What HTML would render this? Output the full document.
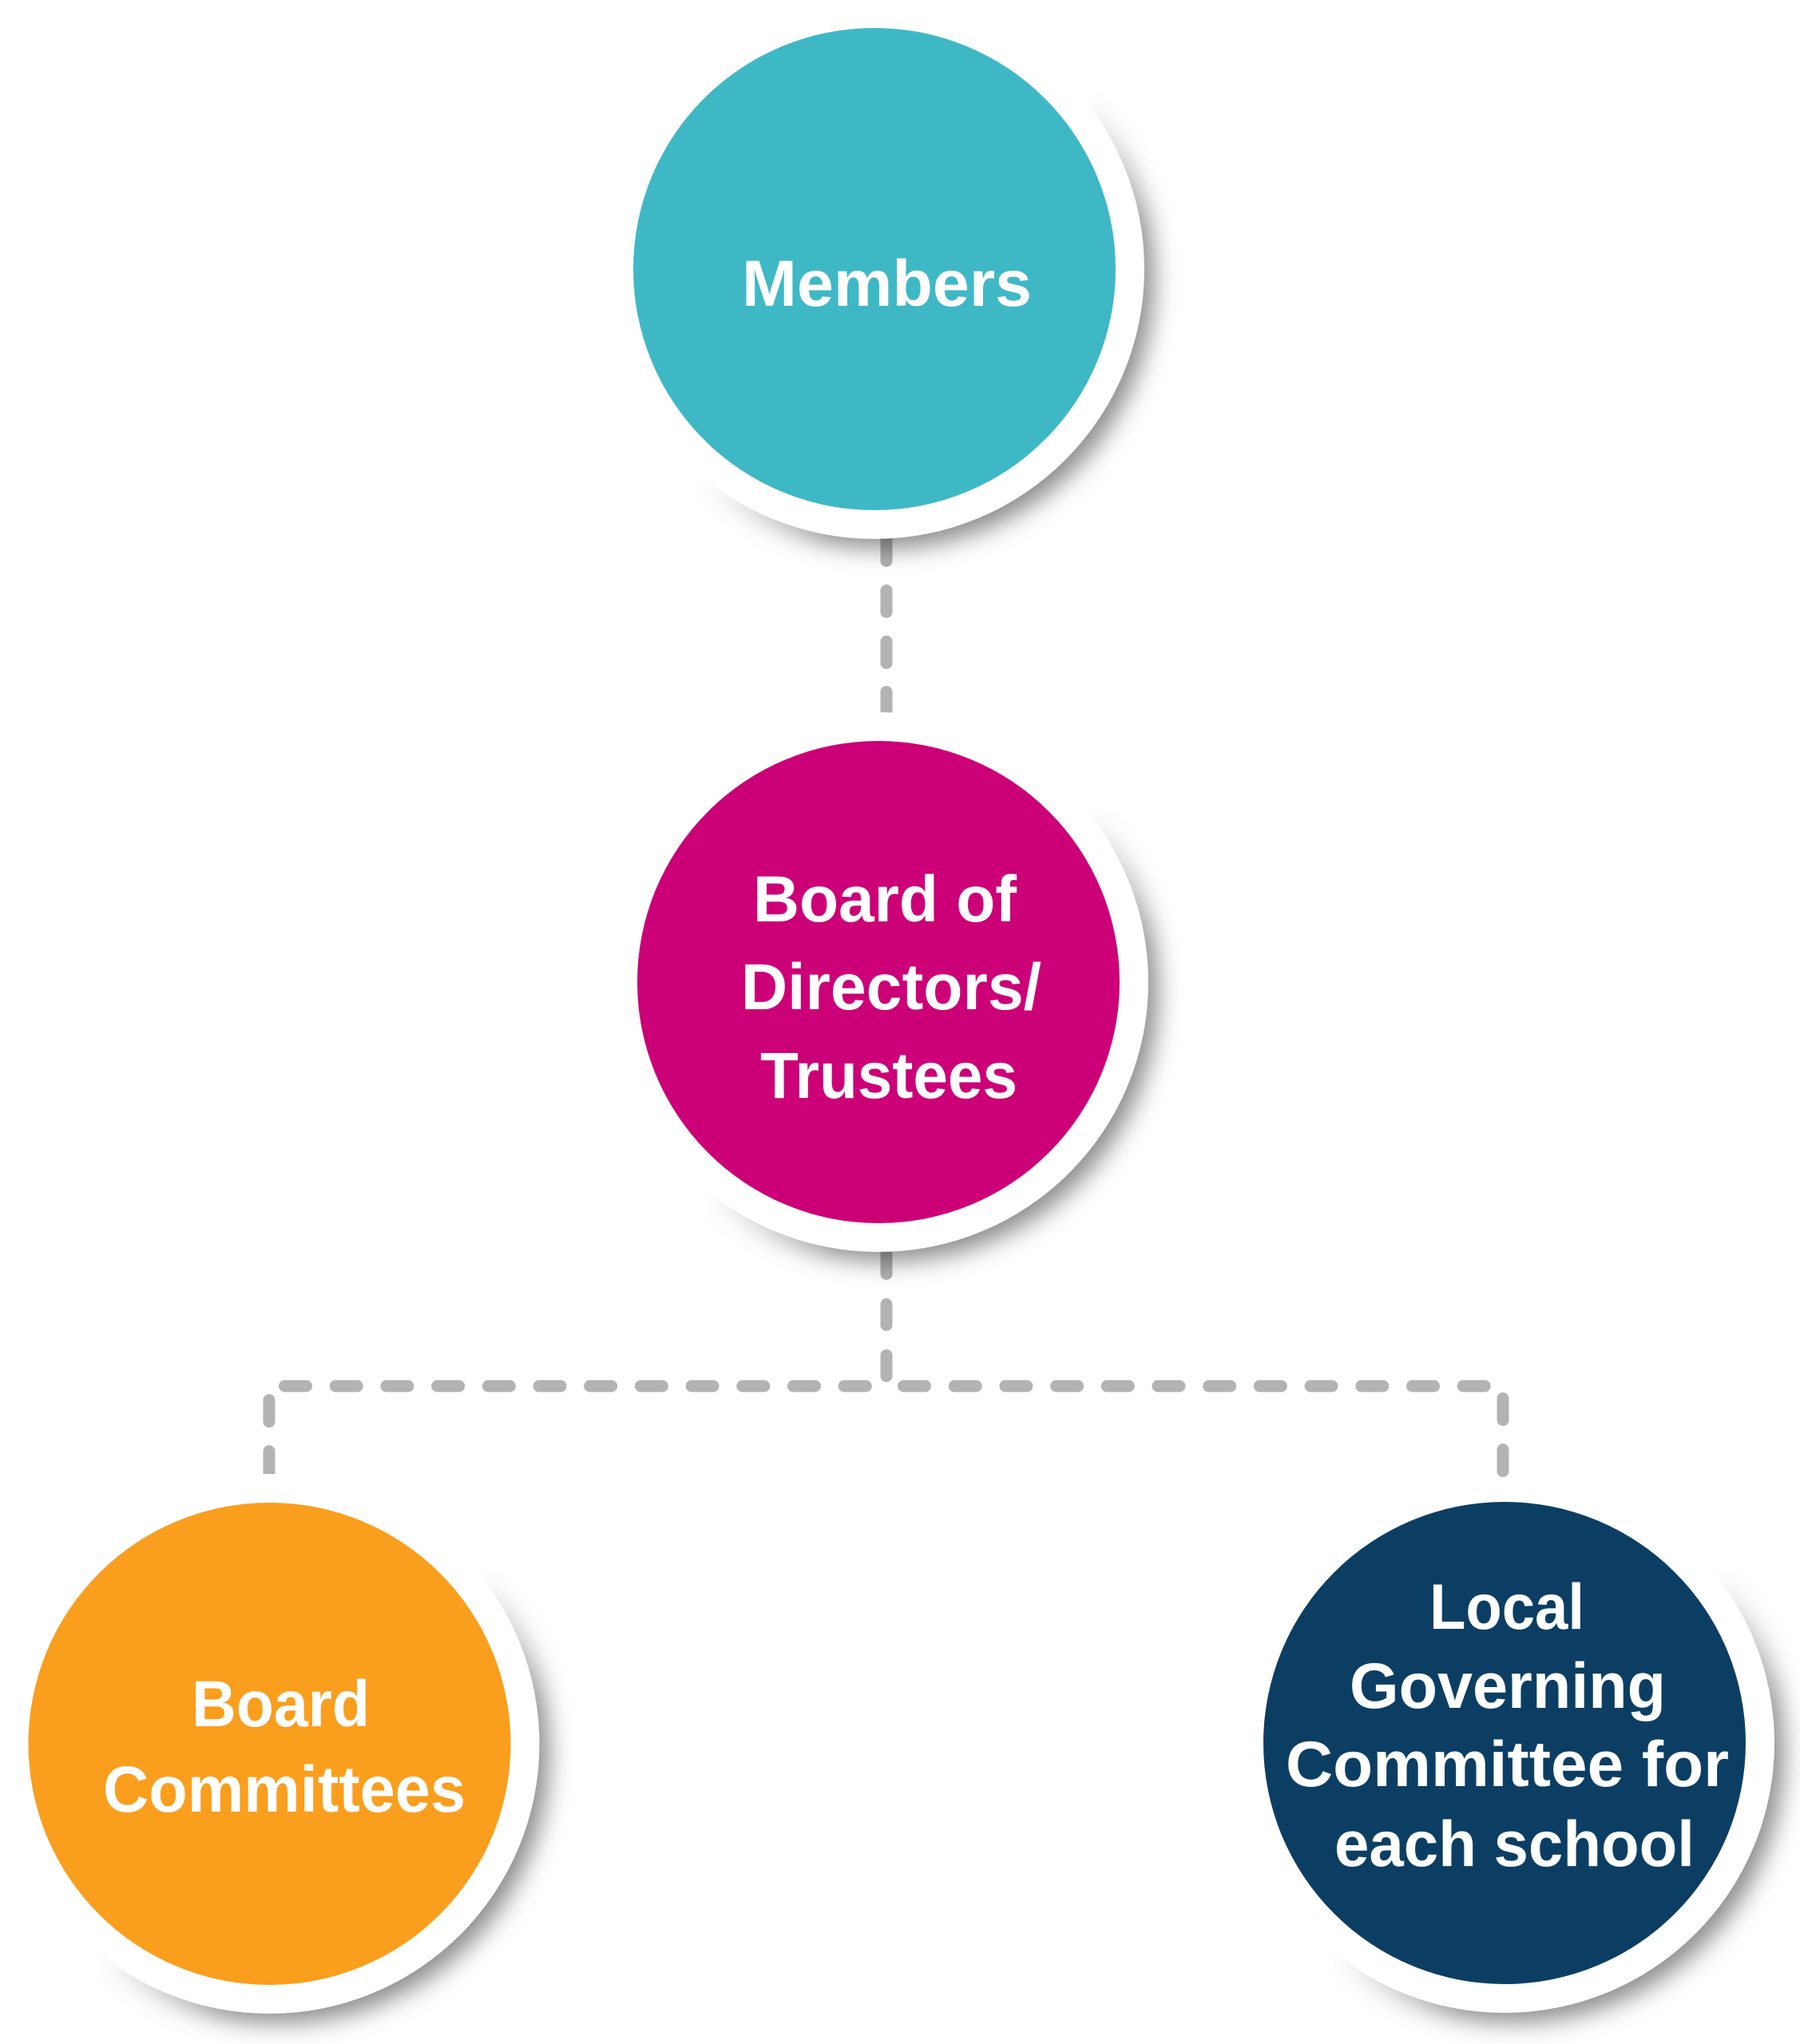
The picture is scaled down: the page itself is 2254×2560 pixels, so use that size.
<!DOCTYPE html>
<html>
<head>
<meta charset="utf-8">
<style>
  html,body{margin:0;padding:0;background:#ffffff;}
  svg{display:block;}
  text{font-family:"Liberation Sans","DejaVu Sans",sans-serif;font-weight:bold;fill:#ffffff;}
</style>
</head>
<body>
<svg width="2254" height="2560" viewBox="0 0 2254 2560" xmlns="http://www.w3.org/2000/svg">
  <defs>
    <filter id="bl" x="-30%" y="-30%" width="160%" height="160%">
      <feGaussianBlur stdDeviation="15"/>
    </filter>
    <!-- Members mask -->
    <linearGradient id="g1" gradientUnits="userSpaceOnUse" x1="1119" y1="361" x2="1238" y2="480">
      <stop offset="0" stop-color="#000"/><stop offset="1" stop-color="#fff"/>
    </linearGradient>
    <mask id="m1" maskUnits="userSpaceOnUse" x="600" y="-200" width="1000" height="1000">
      <rect x="600" y="-200" width="1000" height="1000" fill="url(#g1)"/>
    </mask>
    <!-- Board mask -->
    <linearGradient id="g2" gradientUnits="userSpaceOnUse" x1="1124" y1="1254" x2="1243" y2="1373">
      <stop offset="0" stop-color="#000"/><stop offset="1" stop-color="#fff"/>
    </linearGradient>
    <mask id="m2" maskUnits="userSpaceOnUse" x="600" y="700" width="1000" height="1000">
      <rect x="600" y="700" width="1000" height="1000" fill="url(#g2)"/>
    </mask>
    <!-- Committees mask -->
    <linearGradient id="g3" gradientUnits="userSpaceOnUse" x1="361.5" y1="2208" x2="480.5" y2="2327">
      <stop offset="0" stop-color="#000"/><stop offset="1" stop-color="#fff"/>
    </linearGradient>
    <mask id="m3" maskUnits="userSpaceOnUse" x="-200" y="1700" width="1000" height="1000">
      <rect x="-200" y="1700" width="1000" height="1000" fill="url(#g3)"/>
    </mask>
    <!-- Local mask -->
    <linearGradient id="g4" gradientUnits="userSpaceOnUse" x1="1908" y1="2207" x2="2027" y2="2326">
      <stop offset="0" stop-color="#000"/><stop offset="1" stop-color="#fff"/>
    </linearGradient>
    <mask id="m4" maskUnits="userSpaceOnUse" x="1400" y="1700" width="1000" height="1000">
      <rect x="1400" y="1700" width="1000" height="1000" fill="url(#g4)"/>
    </mask>
  </defs>
  <rect width="2254" height="2560" fill="#ffffff"/>

  <!-- connectors (under circles) -->
  <g stroke="#b3b3b3" stroke-width="15" stroke-linecap="round" fill="none">
    <line x1="1110" y1="650" x2="1110" y2="702.5"/>
    <line x1="1110" y1="739.5" x2="1110" y2="766.5"/>
    <line x1="1110" y1="803.5" x2="1110" y2="830.5"/>
    <line x1="1110" y1="866.5" x2="1110" y2="900"/>
    <line x1="1110" y1="1550" x2="1110" y2="1595.5"/>
    <line x1="1110" y1="1633.5" x2="1110" y2="1659.5"/>
    <line x1="1110" y1="1697.5" x2="1110" y2="1723.5"/>
    <line x1="356.5" y1="1736" x2="383.5" y2="1736"/>
    <line x1="420.2" y1="1736" x2="447.2" y2="1736"/>
    <line x1="483.9" y1="1736" x2="510.9" y2="1736"/>
    <line x1="547.6" y1="1736" x2="574.6" y2="1736"/>
    <line x1="611.3" y1="1736" x2="638.3" y2="1736"/>
    <line x1="675.0" y1="1736" x2="702.0" y2="1736"/>
    <line x1="738.7" y1="1736" x2="765.7" y2="1736"/>
    <line x1="802.4" y1="1736" x2="829.4" y2="1736"/>
    <line x1="866.1" y1="1736" x2="893.1" y2="1736"/>
    <line x1="929.8" y1="1736" x2="956.8" y2="1736"/>
    <line x1="993.5" y1="1736" x2="1020.5" y2="1736"/>
    <line x1="1057.2" y1="1736" x2="1084.2" y2="1736"/>
    <line x1="1131.5" y1="1736" x2="1158.5" y2="1736"/>
    <line x1="1195.2" y1="1736" x2="1222.2" y2="1736"/>
    <line x1="1258.9" y1="1736" x2="1285.9" y2="1736"/>
    <line x1="1322.6" y1="1736" x2="1349.6" y2="1736"/>
    <line x1="1386.3" y1="1736" x2="1413.3" y2="1736"/>
    <line x1="1450.0" y1="1736" x2="1477.0" y2="1736"/>
    <line x1="1513.7" y1="1736" x2="1540.7" y2="1736"/>
    <line x1="1577.4" y1="1736" x2="1604.4" y2="1736"/>
    <line x1="1641.1" y1="1736" x2="1668.1" y2="1736"/>
    <line x1="1704.8" y1="1736" x2="1731.8" y2="1736"/>
    <line x1="1768.5" y1="1736" x2="1795.5" y2="1736"/>
    <line x1="1832.2" y1="1736" x2="1859.2" y2="1736"/>
    <line x1="337" y1="1753.5" x2="337" y2="1780.5"/>
    <line x1="337" y1="1817.5" x2="337" y2="1862"/>
  </g>

  <!-- Members -->
  <g mask="url(#m1)"><circle cx="1107" cy="349" r="338" fill="#000" fill-opacity="0.45" filter="url(#bl)"/></g>
  <circle cx="1095" cy="337" r="338" fill="#ffffff"/>
  <circle cx="1095" cy="337" r="302" fill="#3fb8c6"/>
  <text x="1110.5" y="383" font-size="82" text-anchor="middle" textLength="363" lengthAdjust="spacingAndGlyphs">Members</text>

  <!-- Board of Directors / Trustees -->
  <g mask="url(#m2)"><circle cx="1112" cy="1242" r="338" fill="#000" fill-opacity="0.45" filter="url(#bl)"/></g>
  <circle cx="1100" cy="1230" r="338" fill="#ffffff"/>
  <circle cx="1100" cy="1230" r="302" fill="#cc0077"/>
  <text x="1108" y="1154" font-size="82" text-anchor="middle" textLength="330" lengthAdjust="spacingAndGlyphs">Board of</text>
  <text x="1116" y="1264" font-size="82" text-anchor="middle" textLength="376" lengthAdjust="spacingAndGlyphs">Directors/</text>
  <text x="1113" y="1375" font-size="82" text-anchor="middle" textLength="322" lengthAdjust="spacingAndGlyphs">Trustees</text>

  <!-- Board Committees -->
  <g mask="url(#m3)"><circle cx="349.5" cy="2196" r="338" fill="#000" fill-opacity="0.45" filter="url(#bl)"/></g>
  <circle cx="337.5" cy="2184" r="338" fill="#ffffff"/>
  <circle cx="337.5" cy="2184" r="302" fill="#fa9e1e"/>
  <text x="351.5" y="2162" font-size="82" text-anchor="middle" textLength="223" lengthAdjust="spacingAndGlyphs">Board</text>
  <text x="356" y="2269" font-size="82" text-anchor="middle" textLength="454" lengthAdjust="spacingAndGlyphs">Committees</text>

  <!-- Local Governing Committee -->
  <g mask="url(#m4)"><circle cx="1896" cy="2195" r="338" fill="#000" fill-opacity="0.45" filter="url(#bl)"/></g>
  <circle cx="1884" cy="2183" r="338" fill="#ffffff"/>
  <circle cx="1884" cy="2183" r="302" fill="#0c3e63"/>
  <text x="1887" y="2040" font-size="81" text-anchor="middle" textLength="194" lengthAdjust="spacingAndGlyphs">Local</text>
  <text x="1888" y="2139" font-size="81" text-anchor="middle" textLength="396" lengthAdjust="spacingAndGlyphs">Governing</text>
  <text x="1887.5" y="2237" font-size="81" text-anchor="middle" textLength="555" lengthAdjust="spacingAndGlyphs">Committee for</text>
  <text x="1896.5" y="2337" font-size="81" text-anchor="middle" textLength="451" lengthAdjust="spacingAndGlyphs">each school</text>

  <!-- right drop (drawn on top) -->
  <g stroke="#b3b3b3" stroke-width="15" stroke-linecap="round" fill="none">
    <line x1="1882" y1="1751.5" x2="1882" y2="1778.5"/>
    <line x1="1882" y1="1815.5" x2="1882" y2="1842.5"/>
  </g>
</svg>
</body>
</html>
